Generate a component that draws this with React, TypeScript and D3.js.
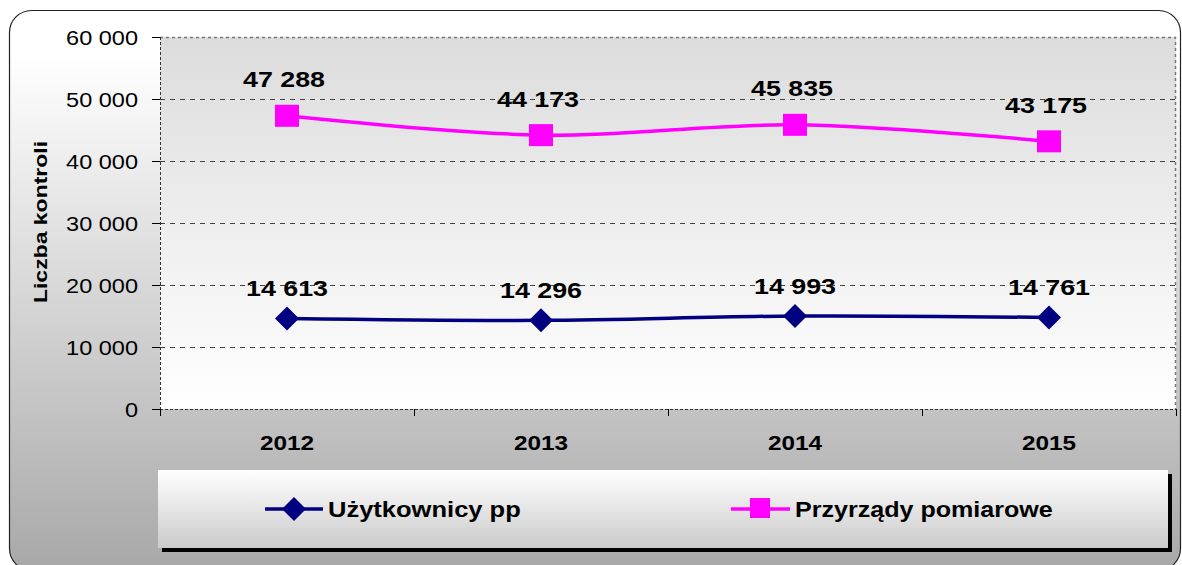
import React from "react";
import * as d3 from "d3";

const categories = ["2012", "2013", "2014", "2015"];
const uzytkownicy = [14613, 14296, 14993, 14761];
const przyrzady = [47288, 44173, 45835, 43175];
const yTicks = [0, 10000, 20000, 30000, 40000, 50000, 60000];
const seriesNames = ["Użytkownicy pp", "Przyrządy pomiarowe"];
const yTitle = "Liczba kontroli";

const W = 1182;
const H = 565;
const plot = { left: 160, right: 1176, top: 37, bottom: 409 };
const FONT = "'Liberation Sans', Arial, sans-serif";

const fmt = (v: number) => {
  const s = String(v);
  return s.replace(/\B(?=(\d{3})+(?!\d))/g, " ");
};

type STProps = {
  x: number;
  y: number;
  sx: number;
  size: number;
  bold?: boolean;
  anchor?: "start" | "middle" | "end";
  dy?: string;
  rotate?: number;
  children: React.ReactNode;
};

function SText({ x, y, sx, size, bold, anchor = "start", dy, rotate = 0, children }: STProps) {
  return (
    <g transform={`translate(${x},${y}) rotate(${rotate}) scale(${sx},1)`}>
      <text
        x={0}
        y={0}
        dy={dy}
        textAnchor={anchor}
        fontSize={size}
        fontWeight={bold ? "bold" : "normal"}
        fill="#000"
      >
        {children}
      </text>
    </g>
  );
}

export default function App() {
  const x = d3
    .scaleBand<string>()
    .domain(categories)
    .range([plot.left, plot.right])
    .paddingInner(0)
    .paddingOuter(0);
  const y = d3.scaleLinear().domain([0, 60000]).range([plot.bottom, plot.top]);
  const cx = (c: string) => (x(c) as number) + x.bandwidth() / 2;

  const line = d3
    .line<number>()
    .x((_, i) => cx(categories[i]))
    .y((d) => y(d))
    .curve(d3.curveCardinal.tension(0));

  const boundaries = [plot.left, ...categories.map((c) => (x(c) as number) + x.bandwidth())];

  const blue = "#000080";
  const pink = "#FF00FF";

  const legendY = 509;

  return (
    <svg
      width={W}
      height={H}
      style={{ position: "absolute", left: 0, top: 0, display: "block" }}
      fontFamily={FONT}
    >
      <defs>
        <linearGradient id="bgGrad" x1="0" y1="0" x2="0" y2="1">
          <stop offset="0" stopColor="#ffffff" />
          <stop offset="0.08" stopColor="#ffffff" />
          <stop offset="1" stopColor="#a8a8a8" />
        </linearGradient>
        <linearGradient id="plotGrad" x1="0" y1="0" x2="0" y2="1">
          <stop offset="0" stopColor="#dcdcdc" />
          <stop offset="1" stopColor="#ffffff" />
        </linearGradient>
        <linearGradient id="legGrad" x1="0" y1="0" x2="0" y2="1">
          <stop offset="0" stopColor="#ffffff" />
          <stop offset="1" stopColor="#cbcbcb" />
        </linearGradient>
      </defs>

      <rect
        x={9.5}
        y={10.5}
        width={1171}
        height={560}
        rx={22}
        ry={22}
        fill="url(#bgGrad)"
        stroke="#222"
        strokeWidth={1.2}
      />

      {/* plot area */}
      <rect
        x={plot.left}
        y={plot.top}
        width={plot.right - plot.left}
        height={plot.bottom - plot.top}
        fill="url(#plotGrad)"
      />
      <path
        d={`M${plot.left},${plot.top + 0.5}H${plot.right - 0.5}V${plot.bottom}`}
        fill="none"
        stroke="#777"
        strokeWidth={1.5}
        strokeDasharray="3,3"
      />

      {/* gridlines */}
      {yTicks
        .filter((t) => t > 0 && t < 60000)
        .map((t) => (
          <line
            key={t}
            x1={plot.left}
            x2={plot.right}
            y1={Math.round(y(t)) + 0.5}
            y2={Math.round(y(t)) + 0.5}
            stroke="#444"
            strokeWidth={1}
            strokeDasharray="5,5"
          />
        ))}

      {/* left axis */}
      <line
        x1={plot.left + 0.5}
        x2={plot.left + 0.5}
        y1={plot.top}
        y2={plot.bottom}
        stroke="#333"
        strokeDasharray="3,2"
      />
      {yTicks.map((t) => (
        <g key={t}>
          <line
            x1={plot.left - 8}
            x2={plot.left}
            y1={Math.round(y(t)) + 0.5}
            y2={Math.round(y(t)) + 0.5}
            stroke="#000"
          />
          <SText x={138} y={y(t)} dy="0.36em" anchor="end" size={21} sx={1.12}>
            {fmt(t)}
          </SText>
        </g>
      ))}

      {/* bottom axis */}
      <line
        x1={plot.left}
        x2={plot.right}
        y1={plot.bottom + 0.5}
        y2={plot.bottom + 0.5}
        stroke="#333"
        strokeDasharray="3,2"
      />
      {boundaries.map((b, i) => (
        <line
          key={i}
          x1={Math.round(b) + 0.5}
          x2={Math.round(b) + 0.5}
          y1={plot.bottom}
          y2={plot.bottom + 7}
          stroke="#000"
        />
      ))}
      {categories.map((c) => (
        <SText key={c} x={cx(c)} y={450} anchor="middle" size={21} sx={1.16} bold>
          {c}
        </SText>
      ))}

      {/* y title */}
      <SText x={47} y={222} rotate={-90} anchor="middle" size={19} sx={1.21} bold>
        {yTitle}
      </SText>

      {/* series lines */}
      <path d={line(przyrzady) || ""} fill="none" stroke={pink} strokeWidth={3.5} />
      <path d={line(uzytkownicy) || ""} fill="none" stroke={blue} strokeWidth={3.5} />

      {przyrzady.map((v, i) => (
        <rect
          key={i}
          x={cx(categories[i]) - 12}
          y={y(v) - 11}
          width={24}
          height={22}
          fill={pink}
        />
      ))}
      {uzytkownicy.map((v, i) => {
        const px = cx(categories[i]);
        const py = y(v);
        return (
          <path
            key={i}
            d={`M${px - 12},${py}L${px},${py - 12}L${px + 12},${py}L${px},${py + 12}Z`}
            fill={blue}
          />
        );
      })}

      {/* data labels */}
      {przyrzady.map((v, i) => (
        <SText
          key={i}
          x={cx(categories[i]) - 3}
          y={y(v) - 28.5}
          anchor="middle"
          size={22}
          sx={1.22}
          bold
        >
          {fmt(v)}
        </SText>
      ))}
      {uzytkownicy.map((v, i) => (
        <SText
          key={i}
          x={cx(categories[i])}
          y={y(v) - 22}
          anchor="middle"
          size={22}
          sx={1.22}
          bold
        >
          {fmt(v)}
        </SText>
      ))}

      {/* legend */}
      <rect x={162} y={474} width={1010} height={78} fill="#000" />
      <rect x={158} y={470} width={1010} height={78} fill="url(#legGrad)" />
      <line x1={265} x2={323} y1={legendY} y2={legendY} stroke={blue} strokeWidth={3.5} />
      <path
        d={`M${282},${legendY}L${294},${legendY - 12}L${306},${legendY}L${294},${legendY + 12}Z`}
        fill={blue}
      />
      <SText x={328} y={legendY} dy="0.36em" size={22} sx={1.16} bold>
        {seriesNames[0]}
      </SText>
      <line x1={731} x2={790} y1={legendY} y2={legendY} stroke={pink} strokeWidth={3.5} />
      <rect x={750} y={legendY - 11} width={20} height={20} fill={pink} />
      <SText x={795} y={legendY} dy="0.36em" size={22} sx={1.14} bold>
        {seriesNames[1]}
      </SText>
    </svg>
  );
}
